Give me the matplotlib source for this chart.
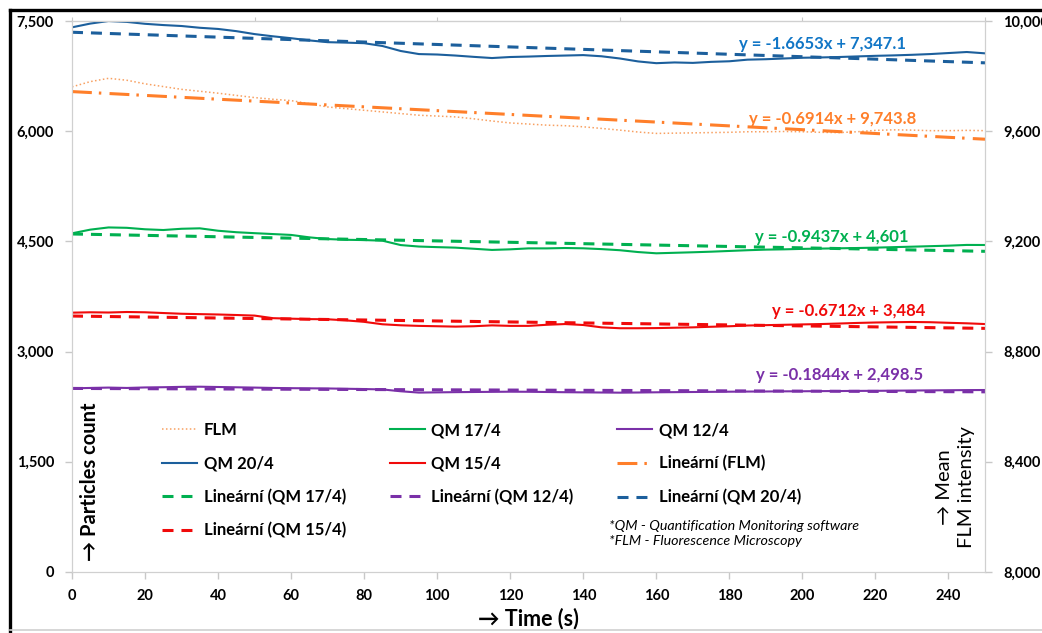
import numpy as np
import matplotlib
matplotlib.use("Agg")
import matplotlib.pyplot as plt
from matplotlib.lines import Line2D
from matplotlib.ticker import FuncFormatter

plt.rcParams["font.family"] = ["Lato", "DejaVu Sans"]

# time axis (s), values every 5 s
time_s = np.arange(0, 251, 5)

qm_20_4 = [7414, 7465, 7500, 7488, 7462, 7445, 7432, 7408, 7392, 7362, 7322,
           7292, 7266, 7236, 7212, 7206, 7198, 7160, 7092, 7050, 7044, 7030,
           7012, 6996, 7010, 7016, 7024, 7030, 7036, 7020, 6990, 6950, 6926,
           6936, 6930, 6944, 6952, 6974, 6980, 6990, 7000, 7004, 7010, 7018,
           7026, 7032, 7040, 7050, 7064, 7078, 7060]
flm = [9761, 9780, 9792, 9785, 9772, 9762, 9752, 9745, 9738, 9730, 9722, 9716,
       9711, 9700, 9688, 9682, 9676, 9670, 9664, 9658, 9655, 9652, 9645, 9637,
       9630, 9626, 9622, 9620, 9616, 9610, 9604, 9597, 9592, 9593, 9594, 9595,
       9596, 9598, 9598, 9599, 9598, 9596, 9595, 9598, 9603, 9605, 9604, 9602,
       9602, 9603, 9602]
qm_17_4 = [4610, 4660, 4690, 4685, 4665, 4655, 4672, 4678, 4645, 4625, 4612,
           4600, 4588, 4555, 4532, 4522, 4518, 4510, 4450, 4430, 4422, 4415,
           4400, 4384, 4392, 4405, 4405, 4410, 4406, 4395, 4380, 4355, 4338,
           4345, 4352, 4360, 4370, 4380, 4388, 4392, 4398, 4402, 4406, 4410,
           4415, 4422, 4428, 4435, 4442, 4452, 4451]
qm_15_4 = [3530, 3535, 3532, 3539, 3535, 3525, 3515, 3510, 3505, 3498, 3490,
           3455, 3448, 3442, 3440, 3425, 3405, 3372, 3358, 3350, 3345, 3340,
           3345, 3357, 3350, 3350, 3365, 3375, 3362, 3330, 3318, 3318, 3320,
           3325, 3330, 3338, 3345, 3355, 3360, 3365, 3370, 3375, 3382, 3390,
           3396, 3400, 3403, 3400, 3392, 3385, 3375]
qm_12_4 = [2500, 2505, 2510, 2505, 2512, 2515, 2520, 2522, 2518, 2514, 2510,
           2505, 2502, 2500, 2498, 2494, 2490, 2485, 2460, 2442, 2445, 2448,
           2450, 2452, 2454, 2453, 2450, 2447, 2445, 2443, 2441, 2443, 2446,
           2448, 2450, 2452, 2454, 2456, 2457, 2459, 2460, 2462, 2463, 2465,
           2466, 2468, 2470, 2472, 2474, 2476, 2477]

# linear trendlines as printed on the chart: (slope, intercept)
fit_20_4 = (-1.6653, 7347.1)
fit_flm = (-0.6914, 9743.8)
fit_17_4 = (-0.9437, 4601)
fit_15_4 = (-0.6712, 3484)
fit_12_4 = (-0.1844, 2498.5)
fit_x = np.array([0, 250])

x_ticks = np.arange(0, 241, 20)
left_ticks = np.arange(0, 7501, 1500)
right_ticks = np.arange(8000, 10001, 400)

BLUE, BLUE_TXT = "#1c5f9c", "#1176c6"
ORANGE, ORANGE_DOT = "#ff7f2a", "#f8a061"
GREEN = "#00b050"
RED = "#f00a0a"
PURPLE = "#7a30a8"
DASH = (0, (3.6, 2.6))
DASHDOT = (0, (6.5, 2.3, 0.8, 2.7))

fig = plt.figure(figsize=(10.42, 6.33), dpi=100)
ax = fig.add_axes([0.0691, 0.0964, 0.8762, 0.8704])
ax2 = ax.twinx()

# data lines
h_flm, = ax2.plot(time_s, flm, color=ORANGE_DOT, lw=1.1, ls=(0, (1, 1.6)), label="FLM")
h20, = ax.plot(time_s, qm_20_4, color=BLUE, lw=1.5, label="QM 20/4")
h17, = ax.plot(time_s, qm_17_4, color=GREEN, lw=1.5, label="QM 17/4")
h15, = ax.plot(time_s, qm_15_4, color=RED, lw=1.5, label="QM 15/4")
h12, = ax.plot(time_s, qm_12_4, color=PURPLE, lw=1.5, label="QM 12/4")

# trendlines
def trend(a, fit, color, ls, label):
    k, q = fit
    return a.plot(fit_x, k * fit_x + q, color=color, lw=2.2, ls=ls, label=label)[0]

t17 = trend(ax, fit_17_4, GREEN, DASH, "Lineární (QM 17/4)")
t15 = trend(ax, fit_15_4, RED, DASH, "Lineární (QM 15/4)")
t12 = trend(ax, fit_12_4, PURPLE, DASH, "Lineární (QM 12/4)")
t20 = trend(ax, fit_20_4, BLUE, DASH, "Lineární (QM 20/4)")
tflm = trend(ax2, fit_flm, ORANGE, DASHDOT, "Lineární (FLM)")

# trendline equations
eqs = [(fit_20_4, 205.4, 7187, BLUE_TXT),
       (fit_flm, 208.4, 6166, ORANGE),
       (fit_17_4, 208.1, 4559, GREEN),
       (fit_15_4, 212.8, 3552, RED),
       (fit_12_4, 210.3, 2681, PURPLE)]
for (k, q), tx, ty, c in eqs:
    q_txt = f"{q:,.1f}" if q % 1 else f"{q:,.0f}"
    ax.text(tx, ty, f"y = {k:.4f}x + {q_txt}", color=c, fontsize=12,
            fontweight="bold", ha="center", va="center", zorder=5)

# axes
ax.set_xlim(0, 250)
ax.set_ylim(0, 7500)
ax2.set_ylim(8000, 10000)
ax.set_xticks(x_ticks)
ax.set_yticks(left_ticks)
ax2.set_yticks(right_ticks)
fmt = FuncFormatter(lambda v, p: f"{v:,.0f}")
ax.yaxis.set_major_formatter(fmt)
ax2.yaxis.set_major_formatter(fmt)
for a in (ax, ax2):
    a.tick_params(length=5, width=1, color="#c8c8c8", labelsize=10.5, pad=8)
    for lab in a.get_xticklabels() + a.get_yticklabels():
        lab.set_fontweight("bold")
    for s in a.spines.values():
        s.set_color("#d0d0d0")
ax.tick_params(axis="x", pad=7)

top = ax.secondary_xaxis("top")
top.set_xticks(np.arange(0, 251, 50))
top.tick_params(length=3, color="#c8c8c8", labeltop=False)
top.spines["top"].set_color("#d9d9d9")

ax.set_xlabel("→ Time (s)", fontsize=15.5, fontweight="bold")
ax.xaxis.set_label_coords(0.5, -0.065)
ax.text(0.02, 0.02, "→ Particles count", transform=ax.transAxes, rotation=90,
        ha="center", va="bottom", fontsize=14.5, fontweight="bold")
ax2.text(0.968, 0.154, "→ Mean\nFLM intensity", transform=ax2.transAxes,
         rotation=90, ha="center", va="center", multialignment="center",
         fontsize=14.5, linespacing=1.35)

ax2.text(0.588, 0.069, "*QM - Quantification Monitoring software\n"
         "*FLM - Fluorescence Microscopy", transform=ax2.transAxes,
         fontsize=10.3, style="italic", va="center", linespacing=1.3)

handles = [h_flm, h20, t17, t15, h17, h15, t12, h12, tflm, t20]
leg = ax2.legend(handles=handles, ncol=3, frameon=False, loc="upper left",
                 bbox_to_anchor=(0.099, 0.272), prop={"size": 12, "weight": "bold"},
                 handlelength=2.1, handletextpad=0.4, columnspacing=2.6,
                 labelspacing=1.04, borderpad=0, borderaxespad=0)

# figure frame
fig.add_artist(Line2D([0.0096, 0.0096], [0, 0.984], color="black", lw=2.4))
fig.add_artist(Line2D([0.0096, 1], [0.984, 0.984], color="black", lw=2.4))
fig.add_artist(Line2D([0.0096, 1], [0.005, 0.005], color="#cfcfcf", lw=1.2))

fig.savefig("out.png", dpi=100)
